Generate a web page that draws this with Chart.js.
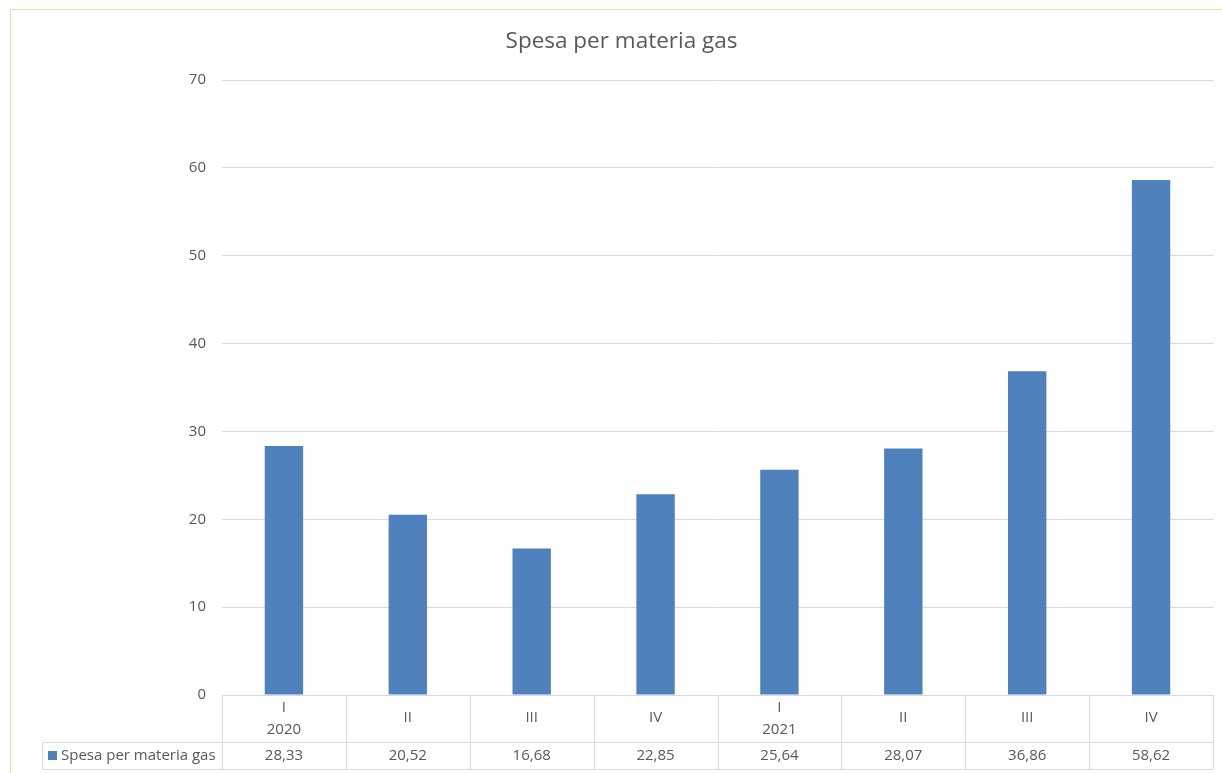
<!DOCTYPE html>
<html>
<head>
<meta charset="utf-8">
<script src="https://cdn.jsdelivr.net/npm/chart.js@4"></script>
<style>
  html, body { margin: 0; padding: 0; background: #ffffff; }
  #wrap { position: relative; width: 1222px; height: 773px; }
</style>
</head>
<body>
<div id="wrap"><canvas id="c" width="1222" height="773"></canvas></div>
<script>
const titleText = 'Spesa per materia gas';
const seriesName = 'Spesa per materia gas';
const quarters = ['I', 'II', 'III', 'IV', 'I', 'II', 'III', 'IV'];
const years = ['2020', '', '', '', '2021', '', '', ''];
const values = [28.33, 20.52, 16.68, 22.85, 25.64, 28.07, 36.86, 58.62];
const yTicks = [0, 10, 20, 30, 40, 50, 60, 70];

const FONT = '"Open Sans", Lato, sans-serif';
const TEXT = '#595959';
const GRID = '#d9d9d9';
const BAR = '#4f81bd';

const tablePlugin = {
  id: 'dataTable',
  beforeDraw(chart) {
    const ctx = chart.ctx;
    ctx.save();
    ctx.fillStyle = '#ffffff';
    ctx.fillRect(0, 0, chart.width, chart.height);
    ctx.strokeStyle = '#e3e6a2';
    ctx.lineWidth = 1;
    ctx.beginPath();
    ctx.moveTo(10.5, 9); ctx.lineTo(10.5, chart.height);
    ctx.moveTo(10, 9.5); ctx.lineTo(chart.width, 9.5);
    ctx.stroke();
    ctx.restore();
  },
  afterDraw(chart) {
    const ctx = chart.ctx;
    const xs = chart.scales.x;
    const area = chart.chartArea;
    const n = quarters.length;
    const top = area.bottom;
    const mid = top + 47;
    const bot = top + 74;
    const keyLeft = 42;
    const bounds = [];
    for (let i = 0; i <= n; i++) {
      if (i === 0) bounds.push(area.left);
      else if (i === n) bounds.push(area.right);
      else bounds.push((xs.getPixelForValue(i - 1) + xs.getPixelForValue(i)) / 2);
    }
    ctx.save();
    ctx.strokeStyle = GRID;
    ctx.lineWidth = 1;
    ctx.beginPath();
    bounds.forEach(b => {
      const x = Math.round(b) + 0.5;
      ctx.moveTo(x, top); ctx.lineTo(x, bot);
    });
    ctx.moveTo(keyLeft, Math.round(mid) + 0.5); ctx.lineTo(area.right, Math.round(mid) + 0.5);
    ctx.moveTo(keyLeft, Math.round(bot) + 0.5); ctx.lineTo(area.right, Math.round(bot) + 0.5);
    ctx.moveTo(keyLeft + 0.5, mid); ctx.lineTo(keyLeft + 0.5, bot);
    ctx.stroke();

    ctx.fillStyle = TEXT;
    ctx.font = '15px ' + FONT;
    ctx.textAlign = 'center';
    ctx.textBaseline = 'middle';
    for (let i = 0; i < n; i++) {
      const cx = xs.getPixelForValue(i);
      if (years[i]) {
        ctx.fillText(quarters[i], cx, top + 13);
        ctx.fillText(years[i], cx, top + 35);
      } else {
        ctx.fillText(quarters[i], cx, top + 23);
      }
      ctx.fillText(values[i].toFixed(2).replace('.', ','), cx, mid + 14);
    }
    // legend key
    ctx.fillStyle = BAR;
    ctx.fillRect(48, mid + 9, 9, 9);
    ctx.fillStyle = TEXT;
    ctx.textAlign = 'left';
    ctx.fillText(seriesName, 61, mid + 14);
    ctx.restore();
  }
};

new Chart(document.getElementById('c'), {
  type: 'bar',
  data: {
    labels: quarters.map((q, i) => years[i] ? [q, years[i]] : q),
    datasets: [{
      label: seriesName,
      data: values,
      backgroundColor: BAR,
      borderWidth: 0,
      categoryPercentage: 1,
      barPercentage: 0.31
    }]
  },
  options: {
    responsive: false,
    animation: false,
    devicePixelRatio: 1,
    layout: { padding: { left: 30, right: 9, top: 0, bottom: 78 } },
    plugins: {
      legend: { display: false },
      tooltip: { enabled: false },
      title: {
        display: true,
        text: titleText,
        color: TEXT,
        font: { family: FONT, size: 22.5, weight: 'normal' },
        padding: { top: 28.5, bottom: 24.5 }
      }
    },
    scales: {
      x: { display: false, offset: true },
      y: {
        min: 0,
        max: 70,
        afterBuildTicks(scale) { scale.ticks = yTicks.map(v => ({ value: v })); },
        afterFit(scale) { scale.width = 192; },
        border: { display: false },
        grid: { color: GRID, lineWidth: 1, drawTicks: false },
        ticks: {
          color: TEXT,
          padding: 16,
          font: { family: FONT, size: 15 }
        }
      }
    }
  },
  plugins: [tablePlugin]
});
</script>
</body>
</html>
